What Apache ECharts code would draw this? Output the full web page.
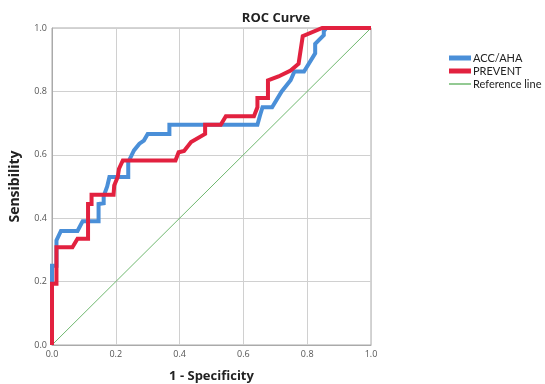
<!DOCTYPE html>
<html>
<head>
<meta charset="utf-8">
<script src="https://cdn.jsdelivr.net/npm/echarts@6/dist/echarts.min.js"></script>
<style>
  html, body { margin: 0; padding: 0; background: #fff; }
  #chart { width: 545px; height: 384px; }
</style>
</head>
<body>
<div id="chart"></div>
<script>
// ROC points (1 - specificity, sensibility)
const accX = [0, 0, 0.014, 0.014, 0.028, 0.08, 0.096, 0.146, 0.146, 0.162, 0.162, 0.173, 0.18, 0.239, 0.239, 0.257, 0.274, 0.288, 0.30, 0.368, 0.368, 0.644, 0.652, 0.66, 0.69, 0.72, 0.748, 0.76, 0.79, 0.825, 0.825, 0.852, 0.852, 0.86, 1];
const accY = [0, 0.25, 0.25, 0.33, 0.36, 0.36, 0.39, 0.39, 0.445, 0.447, 0.47, 0.50, 0.53, 0.53, 0.577, 0.614, 0.635, 0.645, 0.666, 0.666, 0.695, 0.695, 0.724, 0.75, 0.75, 0.80, 0.835, 0.863, 0.863, 0.92, 0.95, 0.977, 0.99, 1, 1];
const prevX = [0, 0, 0.014, 0.014, 0.064, 0.08, 0.113, 0.113, 0.124, 0.124, 0.193, 0.195, 0.206, 0.21, 0.222, 0.387, 0.397, 0.414, 0.436, 0.48, 0.48, 0.529, 0.545, 0.633, 0.644, 0.644, 0.677, 0.677, 0.71, 0.748, 0.773, 0.786, 0.847, 1];
const prevY = [0, 0.193, 0.193, 0.308, 0.308, 0.335, 0.335, 0.445, 0.445, 0.474, 0.474, 0.503, 0.53, 0.556, 0.582, 0.582, 0.608, 0.612, 0.64, 0.666, 0.695, 0.695, 0.722, 0.722, 0.75, 0.779, 0.779, 0.835, 0.847, 0.866, 0.887, 0.974, 1, 1];
const refX = [0, 1];
const refY = [0, 1];

const pairs = (xs, ys) => xs.map((x, i) => [x, ys[i]]);

const chart = echarts.init(document.getElementById('chart'));
const fontFamily = '"Open Sans", "Liberation Sans", sans-serif';
const legendText = { fontSize: 11, color: '#222', fontFamily: 'Lato, sans-serif', lineHeight: 13, padding: [0, 0, 0, -3] };

chart.setOption({
  animation: false,
  textStyle: { fontFamily: fontFamily },
  title: {
    text: 'ROC Curve',
    left: 271, top: 7,
    textAlign: 'center',
    textStyle: { fontSize: 13, fontWeight: 'bold', color: '#222', fontFamily: fontFamily }
  },
  legend: [
    {
      data: [{ name: 'ACC/AHA', icon: 'rect' }, { name: 'PREVENT', icon: 'rect' }],
      orient: 'vertical',
      left: 449, top: 51.5, padding: 0,
      itemWidth: 22, itemHeight: 5, itemGap: 0,
      textStyle: legendText
    },
    {
      data: [{ name: 'Reference line', icon: 'rect' }],
      orient: 'vertical',
      left: 449, top: 77.5, padding: 0,
      itemWidth: 22, itemHeight: 1.5,
      textStyle: legendText
    }
  ],
  grid: { left: 52, right: 174, top: 28, bottom: 39, containLabel: false, outerBoundsMode: 'none' },
  xAxis: {
    type: 'value', min: 0, max: 1, interval: 0.2,
    name: '1 - Specificity', nameLocation: 'middle', nameGap: 25,
    nameTextStyle: { fontSize: 13, fontWeight: 'bold', color: '#222' },
    axisLine: { show: true, lineStyle: { color: '#aaa' } },
    axisTick: { show: false },
    axisLabel: { fontSize: 9, color: '#555', margin: 5, formatter: v => v.toFixed(1) },
    splitLine: { lineStyle: { color: '#d0d0d0', width: 1 } }
  },
  yAxis: {
    type: 'value', min: 0, max: 1, interval: 0.2,
    name: 'Sensibility', nameLocation: 'middle', nameGap: 30,
    nameTextStyle: { fontSize: 14, fontWeight: 'bold', color: '#222' },
    axisLine: { show: true, lineStyle: { color: '#aaa' } },
    axisTick: { show: false },
    axisLabel: { fontSize: 9, color: '#555', margin: 5, formatter: v => v.toFixed(1) },
    splitLine: { lineStyle: { color: '#d0d0d0', width: 1 } }
  },
  series: [
    {
      name: 'Reference line', type: 'line', data: pairs(refX, refY),
      showSymbol: false, color: '#6fb86f',
      lineStyle: { width: 1, color: '#6fb86f' }, z: 1
    },
    {
      name: 'ACC/AHA', type: 'line', data: pairs(accX, accY),
      showSymbol: false, color: '#4a8fd8',
      lineStyle: { width: 4, color: '#4a8fd8', join: 'miter' }, z: 2
    },
    {
      name: 'PREVENT', type: 'line', data: pairs(prevX, prevY),
      showSymbol: false, color: '#e2213f',
      lineStyle: { width: 4, color: '#e2213f', join: 'miter' }, z: 3
    }
  ],
  // right and top border of the plot box
  graphic: [{
    type: 'rect',
    shape: { x: 52, y: 28, width: 545 - 52 - 174, height: 384 - 28 - 39 },
    style: { fill: 'none', stroke: '#aaa', lineWidth: 1 },
    silent: true, z: 0
  }]
});
</script>
</body>
</html>
